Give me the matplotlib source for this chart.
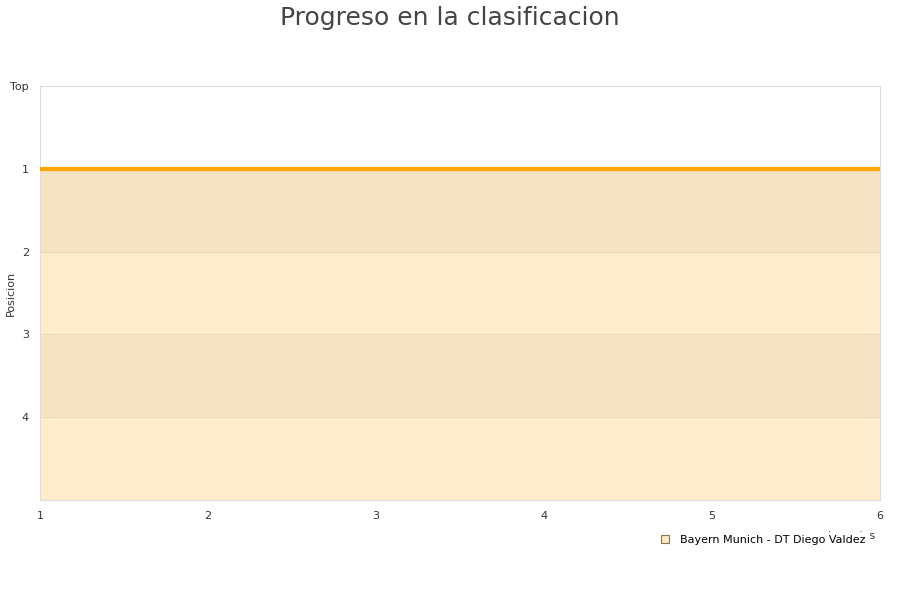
import matplotlib.pyplot as plt
from matplotlib.lines import Line2D

# data
jornadas = [1, 2, 3, 4, 5, 6]
posiciones = [1, 1, 1, 1, 1, 1]
equipo = 'Bayern Munich - DT Diego Valdez'
ytick_pos = [0, 1, 2, 3, 4]
ytick_labels = ['Top', '1', '2', '3', '4']
n_posiciones = 5

fig = plt.figure(figsize=(9, 6), dpi=100)
ax = fig.add_axes([40/900, 1 - 500/600, 840/900, 414/600])

# alternating bands
for i in range(1, n_posiciones):
    color = '#F6E3C3' if i % 2 == 1 else '#FFECCD'
    ax.axhspan(i, i + 1, color=color, zorder=0, lw=0)
for i in range(2, n_posiciones):
    ax.axhline(i, color='#EBD9B9', lw=0.8, zorder=1)

ax.plot(jornadas, posiciones, color='#FFA500', lw=3, zorder=3, solid_capstyle='butt')

ax.set_xlim(1, 6)
ax.set_ylim(n_posiciones, 0)
ax.set_xticks(jornadas)
ax.set_yticks(ytick_pos)
ax.set_yticklabels(ytick_labels)
ax.tick_params(length=0, labelsize=8, colors='#333333', pad=8)
for s in ax.spines.values():
    s.set_color('#DDDDDD')

ax.set_ylabel('Posicion', fontsize=8, color='#333333')
ax.yaxis.set_label_coords(-0.029, 0.5)
ax.set_xlabel('Jornadas', fontsize=8, color='#333333')
ax.xaxis.set_label_coords(0.995, -0.075)
ax.xaxis.label.set_ha('right')

fig.suptitle('Progreso en la clasificacion', fontsize=18, color='#444444', y=0.99)

handle = Line2D([], [], marker='s', linestyle='none', markersize=6,
                markerfacecolor='#FFE9C4', markeredgecolor='#8B7355', markeredgewidth=0.8)
leg = ax.legend([handle], [equipo], loc='upper right', bbox_to_anchor=(0.993, -0.063),
                frameon=True, fontsize=8, handletextpad=0.3, borderpad=0.3)
leg.get_frame().set_edgecolor('white')
leg.get_frame().set_facecolor('white')
leg.get_frame().set_alpha(1)

fig.savefig('out.png', dpi=100)
